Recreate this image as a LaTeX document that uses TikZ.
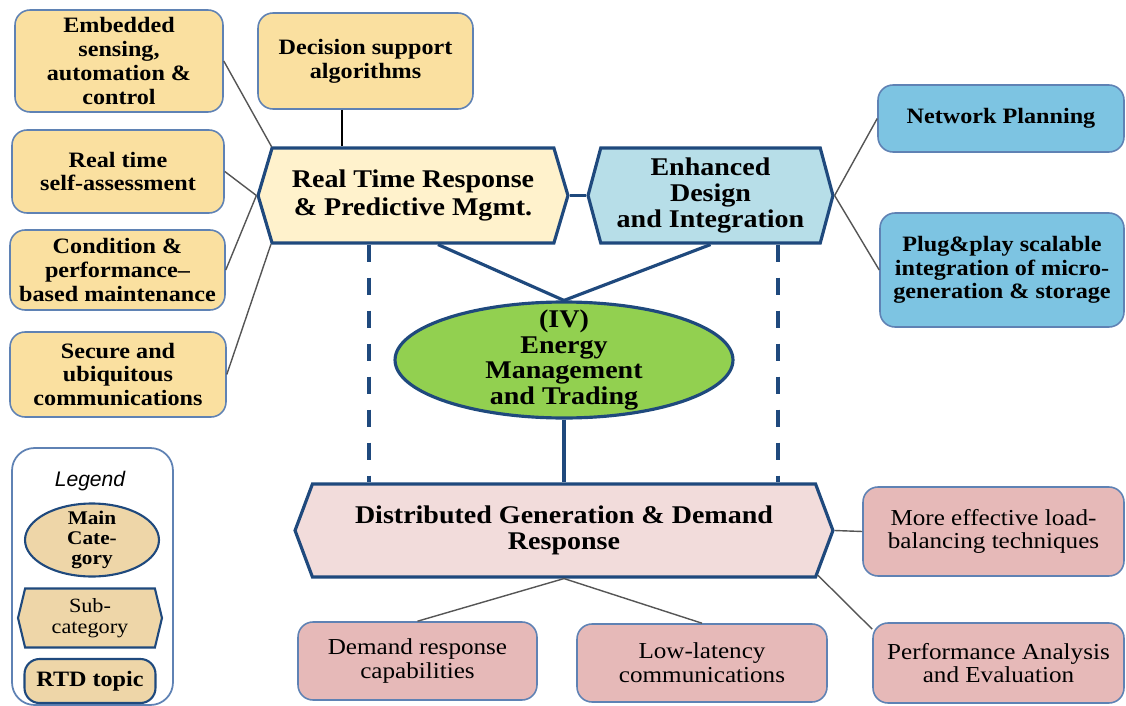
\documentclass[tikz,border=0pt]{standalone}
\usepackage{fontspec}
\setmainfont{Liberation Serif}[FakeStretch=1.1]
\setsansfont{Liberation Sans}
\usetikzlibrary{shapes.geometric}
\usetikzlibrary{shapes.symbols}
\usetikzlibrary{calc}

\definecolor{rtdyellow}{RGB}{250,224,160}
\definecolor{rtyellow}{RGB}{255,242,204}
\definecolor{enhblue}{RGB}{183,222,232}
\definecolor{rtdblue}{RGB}{125,196,226}
\definecolor{emgreen}{RGB}{146,208,80}
\definecolor{dgpink}{RGB}{242,220,219}
\definecolor{rtdpink}{RGB}{230,185,184}
\definecolor{legtan}{RGB}{238,214,168}
\definecolor{darkline}{RGB}{31,73,125}
\definecolor{boxline}{RGB}{95,130,180}
\definecolor{linkgray}{RGB}{85,85,85}

\begin{document}
\begin{tikzpicture}[x=0.02cm, y=-0.02cm,
	every node/.style={align=center, inner sep=0pt, font=\bfseries\fontsize{12.5}{13.5}\selectfont},
	rtdbox/.style={draw=boxline, line width=0.9pt, rounded corners=0.3cm},
	pinkbox/.style={rtdbox, fill=rtdpink, font=\fontsize{13}{13.5}\selectfont},
	subcat/.style={signal, signal to=west and east, draw=darkline, line width=1.8pt, font=\bfseries\fontsize{14.5}{15}\selectfont},
	maincat/.style={ellipse, draw=darkline, line width=1.8pt},
	link/.style={draw=linkgray, line width=0.8pt},
	mainlink/.style={draw=darkline, line width=1.8pt},
	dashlink/.style={draw=darkline, line width=1.8pt, dash pattern=on 0.34cm off 0.32cm}]

	\useasboundingbox (0,0) rectangle (1126,706);

	% RTD topics of the real time column
	\node[rtdbox, fill=rtdyellow, minimum width=4.16cm, minimum height=2.04cm] (embed) at (119,61) {Embedded\\sensing,\\automation \&\\control};
	\node[rtdbox, fill=rtdyellow, minimum width=4.24cm, minimum height=1.66cm] (selfa) at (118,171.5) {Real time\\self-assessment};
	\node[rtdbox, fill=rtdyellow, minimum width=4.3cm, minimum height=1.6cm] (cond) at (117.5,270) {Condition \&\\performance--\\based maintenance};
	\node[rtdbox, fill=rtdyellow, minimum width=4.32cm, minimum height=1.7cm] (secure) at (118,374.5) {Secure and\\ubiquitous\\communications};
	\node[rtdbox, fill=rtdyellow, minimum width=4.3cm, minimum height=1.92cm] (dss) at (365.5,61) {Decision support\\algorithms};

	% sub-categories and main category
	\node[subcat, fill=rtyellow, signal pointer angle=147, minimum width=6.2cm, minimum height=1.9cm, font=\bfseries\fontsize{14.5}{16}\selectfont] (rtr) at (413,195.5) {Real Time Response\\\& Predictive Mgmt.};
	\node[subcat, fill=enhblue, signal pointer angle=150, minimum width=4.9cm, minimum height=1.9cm] (enh) at (710.5,195.5) {Enhanced\\Design\\and Integration};
	\node[maincat, fill=emgreen, inner ysep=-0.25cm, minimum width=6.76cm, minimum height=2.32cm, font=\bfseries\fontsize{14.5}{14.6}\selectfont] (ems) at (564,360) {(IV)\\Energy\\Management\\and Trading};
	\node[subcat, fill=dgpink, signal pointer angle=139, minimum width=10.76cm, minimum height=1.86cm] (dg) at (564,530.5) {Distributed Generation \& Demand\\Response};

	% RTD topics on the right and below
	\node[rtdbox, fill=rtdblue, minimum width=4.92cm, minimum height=1.34cm] (netp) at (1001,118.5) {Network Planning};
	\node[rtdbox, fill=rtdblue, minimum width=4.88cm, minimum height=2.28cm] (plug) at (1002,270) {Plug\&play scalable\\integration of micro-\\generation \& storage};
	\node[pinkbox, minimum width=5.22cm, minimum height=1.78cm] (eff) at (993.5,531.5) {More effective load-\\balancing techniques};
	\node[pinkbox, minimum width=4.78cm, minimum height=1.56cm] (dem) at (417.5,661) {Demand response\\capabilities};
	\node[pinkbox, minimum width=5cm, minimum height=1.56cm] (low) at (702,663) {Low-latency\\communications};
	\node[pinkbox, minimum width=5.02cm, minimum height=1.6cm] (perf) at (998.5,663) {Performance Analysis\\and Evaluation};

	% connectors
	\draw[link] (embed.east) -- (rtr.161);
	\draw[link] (selfa.east) -- (rtr.west);
	\draw[link] (cond.east) -- (rtr.west);
	\draw[link] (secure.east) -- (rtr.199);
	\coordinate (dssfoot) at ($(dss.south)+(-23.5,0)$);
	\draw[draw=black, line width=1.2pt] (dssfoot) -- (dssfoot |- rtr.north);
	\draw[mainlink] (rtr.east) -- (enh.west);
	\draw[link] (enh.east) -- (netp.west);
	\draw[link] (enh.east) -- (plug.west);
	\coordinate (rtfoot) at ($(rtr.south)+(25,0)$);
	\draw[mainlink] (rtfoot) -- (ems.north);
	\draw[mainlink] (enh.south) -- (ems.north);
	\draw[mainlink] (ems.south) -- (dg.north);
	\coordinate (dashl) at ($(rtr.south)+(-44,0)$);
	\coordinate (dashr) at ($(enh.south)+(67.5,0)$);
	\draw[dashlink] (dashl) -- (dashl |- dg.north);
	\draw[dashlink] (dashr) -- (dashr |- dg.north);
	\draw[link] (dg.east) -- (eff.west);
	\draw[link] (dg.south) -- (dem.north);
	\draw[link] (dg.south) -- (low.north);
	\draw[link] (dg.-10.5) -- (perf.165);

	% legend
	\node[draw=boxline, line width=1pt, rounded corners=0.45cm, minimum width=3.22cm, minimum height=5.14cm] (legbox) at (92.5,576.5) {};
	\node[font=\sffamily\itshape\fontsize{12}{13}\selectfont] (legtitle) at (90,481) {Legend};
	\node[maincat, fill=legtan, line width=1.2pt, inner ysep=-0.15cm, minimum width=2.68cm, minimum height=1.46cm, font=\bfseries\fontsize{11}{11.5}\selectfont] (legmain) at (92,540) {Main\\Cate-\\gory};
	\node[subcat, fill=legtan, line width=1.2pt, signal pointer angle=153, minimum width=2.88cm, minimum height=1.18cm, font=\fontsize{11.5}{12}\selectfont] (legsub) at (90,618) {Sub-\\category};
	\node[rtdbox, fill=legtan, draw=darkline, line width=1.2pt, minimum width=2.62cm, minimum height=0.88cm, font=\bfseries\fontsize{12.5}{13}\selectfont] (legrtd) at (90,681) {RTD topic};
\end{tikzpicture}
\end{document}
